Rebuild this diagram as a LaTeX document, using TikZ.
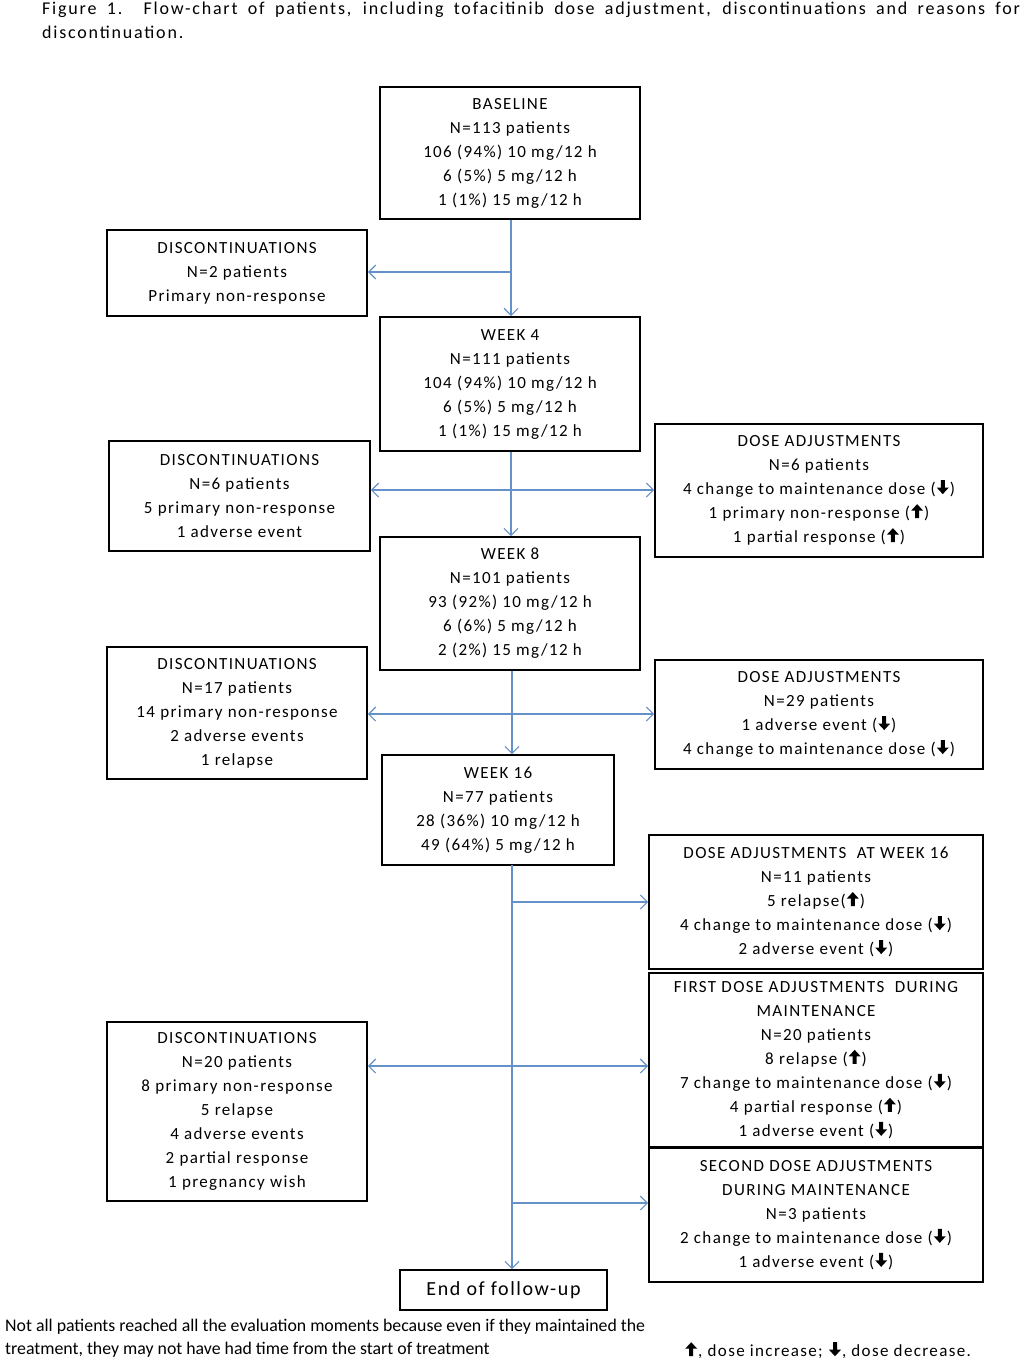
\documentclass[tikz,border=0pt]{standalone}
\usepackage{fontspec}
\setmainfont{Carlito}
\newfontfamily\boxfont[LetterSpace=8]{Carlito}
\newfontfamily\titlefont[LetterSpace=10]{Carlito}
\usetikzlibrary{arrows.meta}
\definecolor{lineblue}{RGB}{100,145,200}
\newcommand\upa{\kern1pt\tikz[x=1pt,y=1pt,baseline=-0.5pt]{\fill[black] (-2,0) -- (2,0) -- (2,7.5) -- (6,7.5) -- (0,14) -- (-6,7.5) -- (-2,7.5) -- cycle;}\kern1pt}
\newcommand\dna{\kern1pt\tikz[x=1pt,y=1pt,baseline=-0.5pt]{\fill[black] (-2,14) -- (2,14) -- (2,6.5) -- (6,6.5) -- (0,0) -- (-6,6.5) -- (-2,6.5) -- cycle;}\kern1pt}
\tikzset{
  box/.style={draw=black, line width=1.6pt, fill=white, align=center, inner sep=0pt,
    font=\boxfont\fontsize{17}{24}\selectfont},
  arr/.style={draw=lineblue, line width=1.3pt, -{Straight Barb[length=7pt,width=14pt,line width=1.2pt]}}
}
\begin{document}
\begin{tikzpicture}[x=1pt,y=-1pt]
\useasboundingbox (0,0) rectangle (1023,1367);
\fill[white] (0,0) rectangle (1023,1367);
% title
\node[anchor=north west, inner sep=0pt, text width=978pt, align=justify,
  font=\titlefont\fontsize{18}{24}\selectfont] (title) at (42,2)
  {\hyphenpenalty=10000 Figure 1. Flow-chart of patients, including tofacitinib dose adjustment, discontinuations and reasons for\linebreak discontinuation.};
% main column
\node[box, minimum width=260pt, minimum height=132pt] (base) at (510,153)
  {BASELINE\\N=113 patients\\106 (94\%) 10 mg/12 h\\6 (5\%) 5 mg/12 h\\1 (1\%) 15 mg/12 h};
\node[box, minimum width=260pt, minimum height=134pt] (w4) at (510,384)
  {WEEK 4\\N=111 patients\\104 (94\%) 10 mg/12 h\\6 (5\%) 5 mg/12 h\\1 (1\%) 15 mg/12 h};
\node[box, minimum width=260pt, minimum height=133pt] (w8) at (510,603.5)
  {WEEK 8\\N=101 patients\\93 (92\%) 10 mg/12 h\\6 (6\%) 5 mg/12 h\\2 (2\%) 15 mg/12 h};
\node[box, minimum width=232pt, minimum height=110pt] (w16) at (498,810)
  {WEEK 16\\N=77 patients\\28 (36\%) 10 mg/12 h\\49 (64\%) 5 mg/12 h};
\node[box, minimum width=207pt, minimum height=40pt, font=\boxfont\fontsize{20}{24}\selectfont] (end) at (503.5,1290)
  {End of follow-up};
% left column
\node[box, minimum width=260pt, minimum height=86pt] (d1) at (237,273)
  {DISCONTINUATIONS\\N=2 patients\\Primary non-response};
\node[box, minimum width=261pt, minimum height=110pt] (d2) at (239.5,496)
  {DISCONTINUATIONS\\N=6 patients\\5 primary non-response\\1 adverse event};
\node[box, minimum width=260pt, minimum height=132pt] (d3) at (237,713)
  {DISCONTINUATIONS\\N=17 patients\\14 primary non-response\\2 adverse events\\1 relapse};
\node[box, minimum width=260pt, minimum height=179pt] (d4) at (237,1111.5)
  {DISCONTINUATIONS\\N=20 patients\\8 primary non-response\\5 relapse\\4 adverse events\\2 partial response\\1 pregnancy wish};
% right column
\node[box, minimum width=328pt, minimum height=133pt] (a1) at (819,490.5)
  {DOSE ADJUSTMENTS\\N=6 patients\\4 change to maintenance dose (\dna)\\1 primary non-response (\upa)\\1 partial response (\upa)};
\node[box, minimum width=328pt, minimum height=109pt] (a2) at (819,714.5)
  {DOSE ADJUSTMENTS\\N=29 patients\\1 adverse event (\dna)\\4 change to maintenance dose (\dna)};
\node[box, minimum width=334pt, minimum height=134pt] (a3) at (816,902)
  {DOSE ADJUSTMENTS \ AT WEEK 16\\N=11 patients\\5 relapse(\upa)\\4 change to maintenance dose (\dna)\\2 adverse event (\dna)};
\node[box, minimum width=334pt, minimum height=174pt] (a4) at (816,1060)
  {FIRST DOSE ADJUSTMENTS \ DURING\\MAINTENANCE\\N=20 patients\\8 relapse (\upa)\\7 change to maintenance dose (\dna)\\4 partial response (\upa)\\1 adverse event (\dna)};
\node[box, minimum width=334pt, minimum height=134pt] (a5) at (816,1215)
  {SECOND DOSE ADJUSTMENTS\\DURING MAINTENANCE\\N=3 patients\\2 change to maintenance dose (\dna)\\1 adverse event (\dna)};
% junctions
\coordinate (j1) at (511,272);
\coordinate (j2) at (511,490);
\coordinate (j3) at (512,714);
\coordinate (t0) at (512,865);
\coordinate (j4) at (512,902);
\coordinate (j5) at (512,1066);
\coordinate (j6) at (512,1203);
% connectors
\draw[arr] (base.south -| j1) -- (w4.north -| j1);
\draw[arr] (j1) -- (d1.east |- j1);
\draw[arr] (w4.south -| j2) -- (w8.north -| j2);
\draw[arr] (j2) -- (d2.east |- j2);
\draw[arr] (j2) -- (a1.west |- j2);
\draw[arr] (w8.south -| j3) -- (w16.north -| j3);
\draw[arr] (j3) -- (d3.east |- j3);
\draw[arr] (j3) -- (a2.west |- j3);
\draw[arr] (t0) -- (end.north -| t0);
\draw[arr] (j4) -- (a3.west |- j4);
\draw[arr] (j5) -- (d4.east |- j5);
\draw[arr] (j5) -- (a4.west |- j5);
\draw[arr] (j6) -- (a5.west |- j6);
% footnotes
\node[anchor=north west, inner sep=0pt, align=left, font=\fontsize{17.8}{23}\selectfont] (foot) at (5,1319)
  {Not all patients reached all the evaluation moments because even if they maintained the\\treatment, they may not have had time from the start of treatment};
\node[anchor=north west, inner sep=0pt, font=\boxfont\fontsize{17}{23}\selectfont] (legend) at (684,1342)
  {\upa, dose increase; \dna, dose decrease.};
\end{tikzpicture}
\end{document}
